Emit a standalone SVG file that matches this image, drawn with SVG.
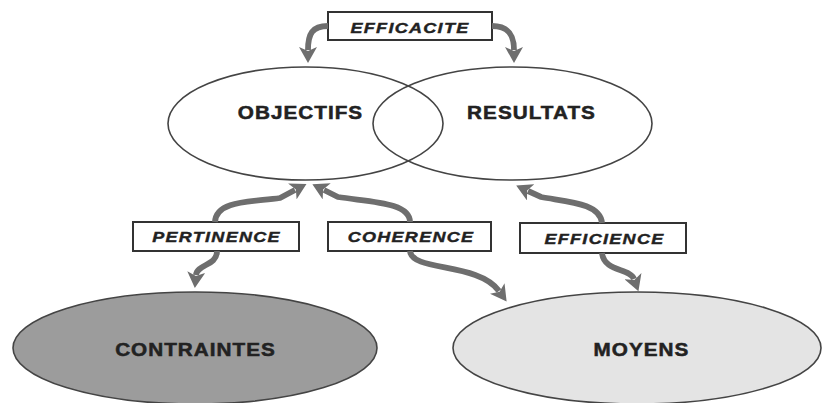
<svg xmlns="http://www.w3.org/2000/svg" width="823" height="403" viewBox="0 0 823 403">
  <style>
    .node { stroke: #444; stroke-width: 1.6; }
    .ntext { font-family: "Liberation Sans", Arial, sans-serif; font-weight: bold; font-size: 18px; letter-spacing: 0.9px; fill: #222; stroke: #222; stroke-width: 0.5; text-anchor: middle; }
    .box { fill: #fff; stroke: #333; stroke-width: 2; }
    .btext { font-family: "Liberation Sans", Arial, sans-serif; font-weight: bold; font-style: italic; font-size: 15px; letter-spacing: 1.1px; fill: #222; stroke: #222; stroke-width: 0.4; text-anchor: middle; }
    .link { fill: none; stroke: #6e6e6e; stroke-width: 5.8; marker-end: url(#head); }
  </style>
  <defs>
    <marker id="head" viewBox="0 0 16 18" refX="3" refY="9" markerWidth="16" markerHeight="18" markerUnits="userSpaceOnUse" orient="auto">
      <path d="M0,0 L16,9 L0,18 L4,9 z" fill="#6e6e6e"/>
    </marker>
  </defs>
  <rect width="823" height="403" fill="#fff"/>

  <g id="objectifs">
    <ellipse class="node" cx="305.5" cy="123.5" rx="137.5" ry="56.5" fill="none"/>
    <text class="ntext" transform="translate(300.5,119) scale(1.15,1)">OBJECTIFS</text>
  </g>
  <g id="resultats">
    <ellipse class="node" cx="512.5" cy="123.5" rx="139.5" ry="56.5" fill="none"/>
    <text class="ntext" transform="translate(531.5,119) scale(1.15,1)">RESULTATS</text>
  </g>
  <g id="contraintes">
    <ellipse class="node" cx="195" cy="348" rx="182" ry="56" fill="#9c9c9c"/>
    <text class="ntext" transform="translate(195.5,356) scale(1.15,1)">CONTRAINTES</text>
  </g>
  <g id="moyens">
    <ellipse class="node" cx="637" cy="348" rx="184" ry="56" fill="#e4e4e4"/>
    <text class="ntext" transform="translate(641.5,356) scale(1.15,1)">MOYENS</text>
  </g>

  <g id="efficacite">
    <rect class="box" x="328" y="12" width="164" height="28"/>
    <text class="btext" transform="translate(410,33) scale(1.2,1)">EFFICACITE</text>
  </g>
  <g id="pertinence">
    <rect class="box" x="133" y="222" width="166" height="29"/>
    <text class="btext" transform="translate(216.5,242) scale(1.2,1)">PERTINENCE</text>
  </g>
  <g id="coherence">
    <rect class="box" x="328" y="222" width="163" height="29"/>
    <text class="btext" transform="translate(411,242) scale(1.2,1)">COHERENCE</text>
  </g>
  <g id="efficience">
    <rect class="box" x="520" y="223" width="166" height="30"/>
    <text class="btext" transform="translate(604.5,244) scale(1.2,1)">EFFICIENCE</text>
  </g>

  <g id="connectors">
    <path class="link" d="M328,26 C312,26 308,34 308,50"/>
    <path class="link" d="M492,26 C508,26 514,34 514,50"/>
    <path class="link" d="M215,222 C216,200 252,202 280,198 L295,190"/>
    <path class="link" d="M217,251 C217,266 197,264 196,275"/>
    <path class="link" d="M410,222 C410,202 370,202 338,197 L324,190"/>
    <path class="link" d="M602,223 C600,203 568,202 541,197 L528,191"/>
    <path class="link" d="M410,251 C412,272 478,262 499,291"/>
    <path class="link" d="M602,253 C604,272 630,268 634,279"/>
  </g>
</svg>
